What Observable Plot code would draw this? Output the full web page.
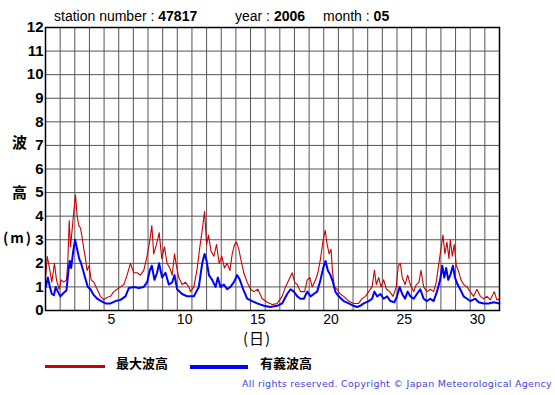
<!DOCTYPE html>
<html><head><meta charset="utf-8">
<script src="https://cdn.jsdelivr.net/npm/d3@7"></script>
<script src="https://cdn.jsdelivr.net/npm/@observablehq/plot@0.6"></script>
<style>
body{margin:0;background:#fff;}
#c{position:relative;width:555px;height:395px;font-family:"Liberation Sans",Arial,sans-serif;overflow:hidden;}
.a{position:absolute;white-space:nowrap;line-height:1;}
.jp{font-family:"Noto Sans CJK JP",sans-serif;font-weight:bold;}
</style></head><body><div id="c"></div>
<script>
// Maximum wave height (最大波高): time in days, value in metres
const maxDay=[1.02,1.12,1.3,1.43,1.61,1.75,1.93,2.07,2.25,2.43,2.52,2.62,2.71,2.8,2.93,3.05,3.16,3.28,3.39,3.5,3.62,3.73,3.84,3.98,4.12,4.3,4.53,4.75,4.98,5.2,5.44,5.66,5.89,6.12,6.35,6.57,6.8,7.03,7.26,7.48,7.71,7.9,8.08,8.26,8.39,8.58,8.76,8.94,9.12,9.3,9.49,9.65,9.81,9.94,10.1,10.33,10.56,10.78,10.9,11.13,11.36,11.54,11.7,11.86,12.0,12.13,12.31,12.5,12.68,12.86,13.04,13.22,13.4,13.59,13.75,13.91,14.04,14.2,14.36,14.54,14.77,15.0,15.23,15.5,15.8,16.14,16.48,16.82,17.16,17.39,17.62,17.85,18.01,18.19,18.41,18.69,18.87,19.05,19.21,19.44,19.6,19.78,19.96,20.1,20.23,20.37,20.5,20.59,20.72,20.9,21.13,21.36,21.7,22.04,22.38,22.6,22.84,23.07,23.3,23.46,23.59,23.75,23.91,24.09,24.28,24.5,24.73,24.95,25.09,25.23,25.36,25.55,25.73,25.91,26.14,26.32,26.5,26.64,26.82,27.05,27.27,27.5,27.68,27.86,28.0,28.14,28.27,28.41,28.55,28.64,28.78,28.91,29.05,29.19,29.37,29.55,29.78,30.0,30.23,30.46,30.69,30.92,31.15,31.37,31.64,31.82,32.0];
const maxVal=[1.5,2.3,1.7,1.2,2.0,1.3,0.9,1.3,1.2,1.3,2.0,3.8,2.7,3.3,4.2,4.9,4.0,3.6,3.5,3.1,2.6,2.2,1.7,1.9,1.3,1.2,0.9,0.6,0.45,0.55,0.6,0.8,0.9,1.0,1.1,1.5,2.0,1.6,1.6,1.5,1.7,2.2,2.8,3.6,2.4,2.8,3.3,2.2,2.7,2.0,1.8,1.5,2.4,1.9,1.4,1.1,1.2,1.0,0.8,1.0,1.8,2.7,3.4,4.2,2.8,3.2,2.5,2.3,2.8,2.0,2.3,1.8,2.0,1.7,2.4,2.8,2.9,2.6,2.1,1.6,1.2,0.9,0.8,0.9,0.5,0.35,0.25,0.3,0.6,1.0,1.3,1.6,1.2,1.1,0.8,0.8,1.3,1.4,1.0,1.3,1.6,2.2,3.0,3.4,2.8,2.4,2.6,1.7,1.0,0.9,0.7,0.6,0.4,0.3,0.3,0.5,0.6,0.8,1.0,1.7,1.1,1.4,1.0,1.3,0.9,0.8,0.6,1.0,1.9,2.0,1.4,1.1,1.5,1.1,0.8,1.1,1.2,1.7,1.0,0.8,0.9,0.8,1.2,2.0,2.6,3.2,2.4,2.9,2.2,3.0,2.3,2.8,1.9,1.7,1.3,1.1,1.0,0.8,0.6,0.9,0.6,0.5,0.6,0.45,0.8,0.45,0.5];
// Significant wave height (有義波高)
const sigDay=[1.02,1.16,1.3,1.43,1.57,1.7,1.84,2.02,2.25,2.43,2.57,2.66,2.75,2.89,3.02,3.16,3.3,3.43,3.57,3.7,3.89,4.07,4.3,4.53,4.8,5.1,5.44,5.78,6.12,6.46,6.69,7.03,7.37,7.71,7.94,8.12,8.26,8.44,8.62,8.76,8.96,9.19,9.42,9.65,9.81,9.99,10.33,10.67,11.13,11.47,11.7,11.86,12.0,12.16,12.38,12.61,12.77,12.95,13.18,13.4,13.63,13.86,14.09,14.27,14.5,14.77,15.11,15.45,15.91,16.36,16.82,17.16,17.5,17.73,17.96,18.19,18.41,18.64,18.87,19.1,19.32,19.55,19.78,19.96,20.12,20.28,20.46,20.63,20.79,21.02,21.36,21.7,22.04,22.27,22.5,22.73,23.07,23.3,23.46,23.64,23.87,24.09,24.32,24.55,24.82,25.0,25.18,25.36,25.55,25.73,25.91,26.14,26.36,26.59,26.82,27.05,27.27,27.5,27.73,27.95,28.09,28.23,28.36,28.5,28.64,28.82,28.96,29.14,29.32,29.55,29.78,30.0,30.35,30.58,30.92,31.26,31.6,32.0];
const sigVal=[1.0,1.4,1.0,0.7,0.65,1.0,0.8,0.6,0.75,0.85,1.7,2.1,1.8,2.5,3.0,2.6,2.2,2.0,1.7,1.4,1.0,0.9,0.65,0.5,0.4,0.3,0.3,0.4,0.45,0.6,0.95,1.0,0.95,1.0,1.2,1.7,1.9,1.3,1.6,2.0,1.4,1.6,1.1,1.2,1.5,0.9,0.7,0.6,0.6,1.0,2.0,2.4,2.1,1.5,1.3,1.0,1.4,1.0,1.1,0.9,1.0,1.2,1.5,1.3,0.9,0.5,0.4,0.3,0.2,0.15,0.2,0.3,0.7,0.9,0.8,0.6,0.5,0.5,0.8,0.6,0.7,0.8,1.3,1.8,2.1,1.7,1.5,1.2,0.8,0.6,0.4,0.3,0.2,0.15,0.2,0.3,0.4,0.5,0.8,0.6,0.7,0.5,0.6,0.4,0.35,0.6,1.0,0.7,0.5,0.8,0.6,0.5,0.7,0.9,0.5,0.4,0.5,0.4,0.8,1.3,1.9,1.4,1.8,1.3,1.5,1.9,1.4,1.1,0.9,0.6,0.5,0.4,0.5,0.35,0.3,0.3,0.35,0.3];
const yTicks=d3.range(0,13);
const dayLabels=[5,10,15,20,25,30];
const gridDays=d3.range(2,32);
const station="47817", year="2006", month="05";
const seriesNames=["最大波高","有義波高"];
const colors=["#cc0000","#0000ff"];

const red=maxDay.map((d,i)=>({day:d,h:maxVal[i]}));
const blue=sigDay.map((d,i)=>({day:d,h:sigVal[i]}));

const chart=Plot.plot({
  width:555,height:395,
  marginTop:27,marginBottom:85,marginLeft:45,marginRight:56,
  x:{domain:[1,32]},
  y:{domain:[0,12]},
  style:{fontFamily:"'Liberation Sans',Arial,sans-serif",background:"white",color:"black"},
  marks:[
    Plot.ruleX(gridDays,{x:d=>d,stroke:"#555",strokeWidth:1,strokeOpacity:1}),
    Plot.ruleY(d3.range(1,12),{y:d=>d,stroke:"#555",strokeWidth:1,strokeOpacity:1}),
    Plot.line(red,{x:"day",y:"h",stroke:colors[0],strokeWidth:1.1}),
    Plot.line(blue,{x:"day",y:"h",stroke:colors[1],strokeWidth:2}),
    Plot.frame({stroke:"black",strokeWidth:1.5}),
    Plot.axisY({ticks:yTicks,tickSize:0,tickPadding:2,fontSize:15,fontWeight:"bold",label:null,tickFormat:d=>String(d)}),
    Plot.axisX({ticks:dayLabels.map(d=>d+0.5),tickSize:0,tickPadding:4,fontSize:14,label:null,tickFormat:d=>String(Math.floor(d))})
  ]
});
const c=document.getElementById("c");
c.appendChild(chart);
function add(html,left,top,style,cls){const e=document.createElement("div");e.className="a "+(cls||"");e.innerHTML=html;e.style.left=left+"px";e.style.top=top+"px";if(style)e.style.cssText+=style;c.appendChild(e);return e;}
add(`station number : <b style="font-weight:600">${station}</b>`,54,9,"font-size:14px;");
add(`year : <b style="font-weight:600">${year}</b>`,235,9,"font-size:14px;");
add(`month : <b style="font-weight:600">${month}</b>`,323,9,"font-size:14px;");
add("波",12,134,"font-size:15px;","jp");
add("高",12,184,"font-size:15px;","jp");
add("(m)",3,230,"font-size:14px;letter-spacing:2px;","jp");
add("(日)",243,330,"font-size:15px;font-weight:normal;letter-spacing:1px;","jp");
add(`<span style="display:inline-block;width:60px;height:3px;background:${colors[0]};vertical-align:middle"></span>`,45,358,"");
add(seriesNames[0],116,356,"font-size:13px;","jp");
add(`<span style="display:inline-block;width:58px;height:4px;background:${colors[1]};vertical-align:middle"></span>`,190,358,"");
add(seriesNames[1],260,356,"font-size:13px;","jp");
const cp=add("All rights reserved. Copyright © Japan Meteorological Agency",242,379,"font-size:9.5px;color:#4444dd;font-family:'DejaVu Sans',sans-serif;");
const w=cp.getBoundingClientRect().width;const n=cp.textContent.length;
cp.style.letterSpacing=((310-w)/n)+"px";
</script></body></html>
